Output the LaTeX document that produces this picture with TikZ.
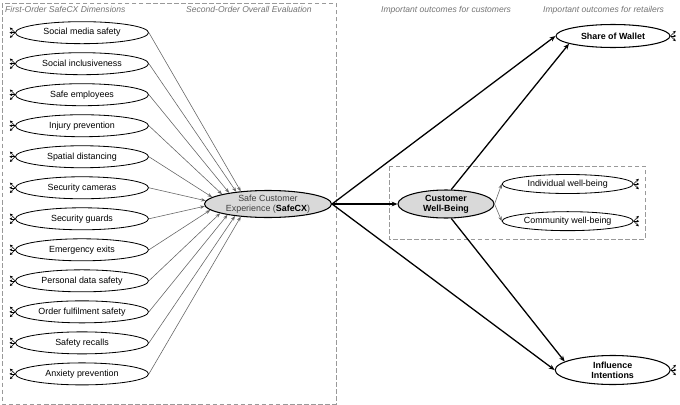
\documentclass[tikz,border=0pt]{standalone}
\usepackage{fontspec}
\setmainfont{Liberation Sans}
\usetikzlibrary{shapes,arrows.meta,positioning}

\begin{document}
\begin{tikzpicture}[
    node distance=0.246cm,
    txt/.style={font=\fontsize{7.6}{8.6}\selectfont},
    dim/.style={ellipse, draw, line width=0.7pt, minimum width=3.99cm, minimum height=0.66cm, inner sep=0.5pt, txt},
    outc/.style={ellipse, draw, line width=0.9pt, inner sep=0pt, align=center, font=\fontsize{7.6}{8.6}\selectfont\bfseries},
    heading/.style={anchor=west, inner sep=0pt, text=black!55, font=\fontsize{7.3}{8.4}\selectfont\itshape},
    feed/.style={-{Stealth[length=4pt,width=3pt]}, draw=black!60, line width=0.5pt},
    link/.style={-{Stealth[length=5pt,width=4pt]}, line width=1.1pt},
    ind/.style={-{Stealth[length=2.5pt,width=2.5pt]}, line width=0.45pt},
    zone/.style={draw=black!40, line width=0.8pt, dash pattern=on 4pt off 2pt}
]
\useasboundingbox (0,0) rectangle (20.4,-12.15);

% Dashed zones
\draw[zone] (0.06,-0.09) rectangle (10.08,-12.12);
\draw[zone] (11.67,-4.98) rectangle (19.35,-7.17);

% Headings
\node[heading] (h1) at (0.15,-0.27) {First-Order SafeCX Dimensions};
\node[heading] (h2) at (5.58,-0.27) {Second-Order Overall Evaluation};
\node[heading] (h3) at (11.43,-0.3) {Important outcomes for customers};
\node[heading] (h4) at (16.29,-0.3) {Important outcomes for retailers};

% First-order dimensions
\node[dim] (media) at (2.46,-0.98) {Social media safety};
\node[dim, below=of media] (inclusive) {Social inclusiveness};
\node[dim, below=of inclusive] (employees) {Safe employees};
\node[dim, below=of employees] (injury) {Injury prevention};
\node[dim, below=of injury] (distancing) {Spatial distancing};
\node[dim, below=of distancing] (cameras) {Security cameras};
\node[dim, below=of cameras] (guards) {Security guards};
\node[dim, below=of guards] (exits) {Emergency exits};
\node[dim, below=of exits] (data) {Personal data safety};
\node[dim, below=of data] (fulfilment) {Order fulfilment safety};
\node[dim, below=of fulfilment] (recalls) {Safety recalls};
\node[dim, below=of recalls] (anxiety) {Anxiety prevention};

% Second-order construct
\node[ellipse, draw, fill=black!15, line width=0.9pt, minimum width=3.81cm, minimum height=0.81cm, inner sep=0pt, align=center, txt, text=black!75] (safecx) at (8.04,-6.12) {Safe Customer\\Experience (\textbf{\textcolor{black}{SafeCX}})};

% Customer outcomes
\node[outc, fill=black!15, minimum width=2.88cm, minimum height=0.84cm] (cwb) at (13.38,-6.12) {Customer\\Well-Being};
\node[dim, minimum width=3.93cm, minimum height=0.57cm] (indiv) at (17.03,-5.52) {Individual well-being};
\node[dim, minimum width=3.93cm, minimum height=0.57cm, below=0.52cm of indiv] (community) {Community well-being};

% Retailer outcomes
\node[outc, minimum width=3.42cm, minimum height=0.69cm] (wallet) at (18.39,-1.08) {Share of Wallet};
\node[outc, minimum width=3.45cm, minimum height=0.87cm] (influence) at (18.38,-11.1) {Influence\\Intentions};

% Indicators
\foreach \n in {media,inclusive,employees,injury,distancing,cameras,guards,exits,data,fulfilment,recalls,anxiety} {
    \draw[ind] (\n.west) -- ++(135:0.22);
    \draw[ind] (\n.west) -- ++(180:0.17);
    \draw[ind] (\n.west) -- ++(225:0.22);
}
\foreach \n in {wallet,influence,indiv,community} {
    \draw[ind] (\n.east) -- ++(45:0.22);
    \draw[ind] (\n.east) -- ++(0:0.17);
    \draw[ind] (\n.east) -- ++(-45:0.22);
}

% Arrows
\foreach \n [count=\i, evaluate=\i as \a using int(155+(\i-1)*4.55)] in {media,inclusive,employees,injury,distancing,cameras,guards,exits,data,fulfilment,recalls,anxiety}
    \draw[feed] (\n.east) -- (safecx.\a);
\draw[link] (safecx.east) -- (wallet.west);
\draw[link] (safecx.east) -- (cwb.west);
\draw[link] (safecx.east) -- (influence.west);
\draw[link] (cwb.70) -- (wallet.190);
\draw[link] (cwb.290) -- (influence.170);
\draw[feed] (cwb.east) -- (indiv.west);
\draw[feed] (cwb.east) -- (community.west);
\end{tikzpicture}
\end{document}
